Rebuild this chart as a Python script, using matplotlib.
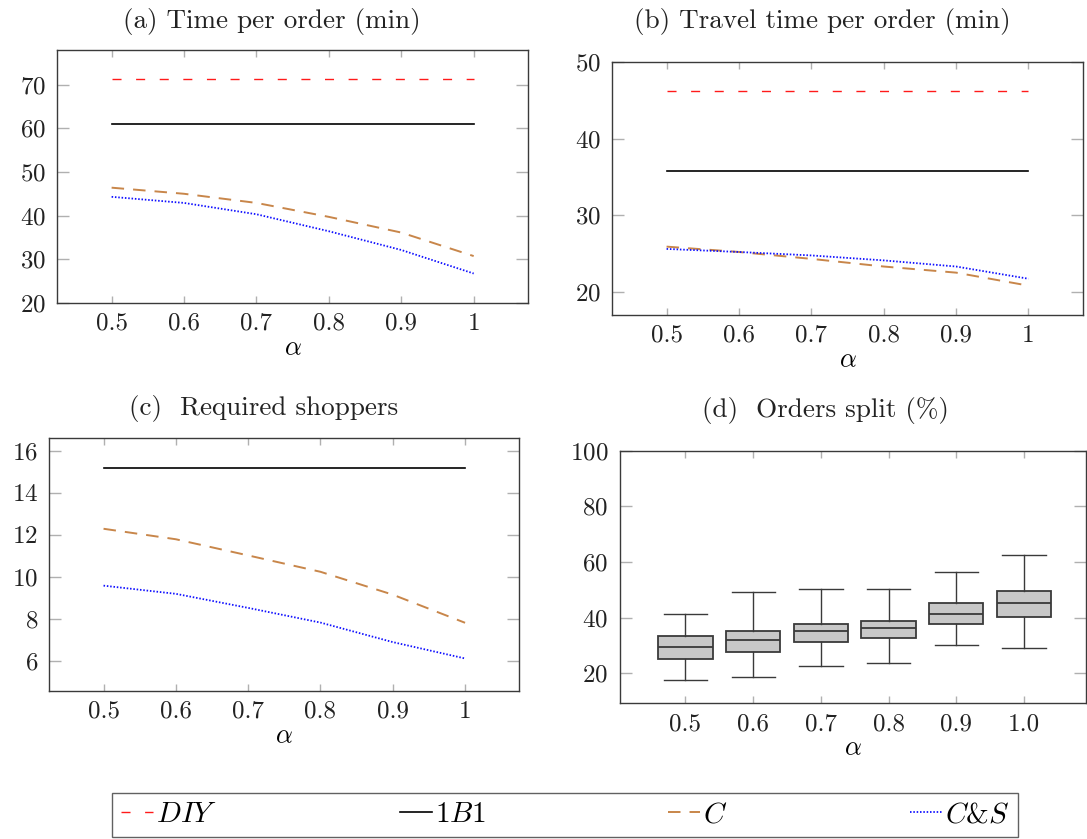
import matplotlib
matplotlib.use('Agg')
import matplotlib.pyplot as plt

plt.rcParams['font.family'] = 'cmr10'
plt.rcParams['mathtext.fontset'] = 'cm'
plt.rcParams['axes.unicode_minus'] = False
plt.rcParams['axes.formatter.use_mathtext'] = True
plt.rcParams['lines.scale_dashes'] = False

W, H = 1087, 839

# data
alpha = [0.5, 0.6, 0.7, 0.8, 0.9, 1.0]
alpha_labels = ['0.5', '0.6', '0.7', '0.8', '0.9', '1']
box_labels = ['0.5', '0.6', '0.7', '0.8', '0.9', '1.0']
box_pos = [1, 2, 3, 4, 5, 6]

# (a) time per order
time_diy = [71.4, 71.4, 71.4, 71.4, 71.4, 71.4]
time_1b1 = [61.1, 61.1, 61.1, 61.1, 61.1, 61.1]
time_c = [46.4, 45.0, 42.9, 39.7, 36.1, 30.7]
time_cs = [44.3, 42.9, 40.3, 36.4, 32.1, 26.7]

# (b) travel time per order
travel_diy = [46.25, 46.25, 46.25, 46.25, 46.25, 46.25]
travel_1b1 = [35.85, 35.85, 35.85, 35.85, 35.85, 35.85]
travel_c = [25.9, 25.2, 24.3, 23.3, 22.5, 20.8]
travel_cs = [25.6, 25.2, 24.75, 24.1, 23.3, 21.7]

# (c) required shoppers
shop_1b1 = [15.19, 15.19, 15.19, 15.19, 15.19, 15.19]
shop_c = [12.29, 11.79, 11.02, 10.24, 9.15, 7.81]
shop_cs = [9.58, 9.19, 8.52, 7.82, 6.89, 6.11]

# (d) orders split (%)
split_low = [17.6, 18.8, 22.6, 23.7, 30.1, 28.9]
split_q1 = [25.1, 27.7, 31.3, 32.6, 37.6, 40.1]
split_med = [29.5, 32.1, 35.1, 36.4, 41.3, 45.1]
split_q3 = [33.5, 35.1, 37.6, 38.8, 45.1, 49.7]
split_high = [41.4, 49.0, 50.1, 50.1, 56.3, 62.6]

RED = '#ff1a1a'
ORANGE = '#c8864a'
BLUE = '#1010ff'
style_diy = dict(color=RED, lw=1.0, dashes=(6.5, 10.5))
style_1b1 = dict(color='black', lw=1.2)
style_c = dict(color=ORANGE, lw=1.4, dashes=(9, 6.5))
style_cs = dict(color=BLUE, lw=1.3, dashes=(1.1, 1.3))

fig = plt.figure(figsize=(W / 100, H / 100), dpi=100)


def add_ax(l, r, t, b):
    return fig.add_axes([l / W, 1 - b / H, (r - l) / W, (b - t) / H])


def style(ax):
    for s in ax.spines.values():
        s.set_color('#3a3a3a')
        s.set_linewidth(1.0)
    ax.tick_params(direction='in', top=True, right=True, color='#b0b0b0',
                   labelsize=18, labelcolor='#222222', width=1.0)
    ax.tick_params(axis='x', length=5, pad=7)
    ax.tick_params(axis='y', length=8.5, pad=8)
    ax.set_xlabel(r'$\alpha$', fontsize=19, labelpad=1)


def title(x, y, s):
    fig.text(x / W, 1 - y / H, s, fontsize=19.5, ha='center', va='center', color='#222222')


# (a)
ax = add_ax(57.3, 528, 50, 302.7)
l_diy, = ax.plot(alpha, time_diy, **style_diy)
l_1b1, = ax.plot(alpha, time_1b1, **style_1b1)
l_c, = ax.plot(alpha, time_c, **style_c)
l_cs, = ax.plot(alpha, time_cs, **style_cs)
ax.set_xlim(0.425, 1.075)
ax.set_ylim(20, 78)
ax.set_xticks(alpha, alpha_labels)
ax.set_yticks([20, 30, 40, 50, 60, 70])
style(ax)
title(272, 21.7, '(a) Time per order (min)')

# (b)
ax = add_ax(612.3, 1082.7, 62.3, 314.7)
ax.plot(alpha, travel_diy, **style_diy)
ax.plot(alpha, travel_1b1, **style_1b1)
ax.plot(alpha, travel_c, **style_c)
ax.plot(alpha, travel_cs, **style_cs)
ax.set_xlim(0.425, 1.075)
ax.set_ylim(17, 50)
ax.set_xticks(alpha, alpha_labels)
ax.set_yticks([20, 30, 40, 50])
style(ax)
title(822, 21.7, '(b) Travel time per order (min)')

# (c)
ax = add_ax(49.3, 519.3, 438.3, 691)
ax.plot(alpha, shop_1b1, **style_1b1)
ax.plot(alpha, shop_c, **style_c)
ax.plot(alpha, shop_cs, **style_cs)
ax.set_xlim(0.425, 1.075)
ax.set_ylim(4.56, 16.6)
ax.set_xticks(alpha, alpha_labels)
ax.set_yticks([6, 8, 10, 12, 14, 16])
style(ax)
title(264, 408.3, '(c)  Required shoppers')

# (d)
ax = add_ax(619.5, 1085.5, 450.5, 703.3)
stats = []
for lo, q1, me, q3, hi in zip(split_low, split_q1, split_med, split_q3, split_high):
    stats.append(dict(whislo=lo, q1=q1, med=me, q3=q3, whishi=hi, fliers=[]))
edge = '#3a3a3a'
ax.bxp(stats, positions=box_pos, widths=0.8, capwidths=0.64, patch_artist=True,
       showfliers=False,
       boxprops=dict(facecolor='#c8c8c8', edgecolor=edge, linewidth=1.3),
       medianprops=dict(color=edge, linewidth=1.3),
       whiskerprops=dict(color=edge, linewidth=1.0),
       capprops=dict(color=edge, linewidth=1.0))
ax.set_xlim(0.025, 6.91)
ax.set_ylim(9.2, 100)
ax.set_xticks(box_pos, box_labels)
ax.set_yticks([20, 40, 60, 80, 100])
style(ax)
title(825, 410, '(d)  Orders split (%)')

# legend
leg = fig.legend([l_diy, l_1b1, l_c, l_cs], [r'$DIY$', r'$1B1$', r'$C$', r'$C$&$S$'],
                 loc='lower left', bbox_to_anchor=(112 / W, 1 - 837 / H, 906 / W, 51 / H),
                 mode='expand', ncol=4, fontsize=21, frameon=True, fancybox=False,
                 borderaxespad=0, handlelength=1.1, handletextpad=0.1, borderpad=0.3)
leg.get_frame().set_edgecolor('#3a3a3a')
leg.get_frame().set_linewidth(1.0)

fig.savefig('out.png', dpi=100)
